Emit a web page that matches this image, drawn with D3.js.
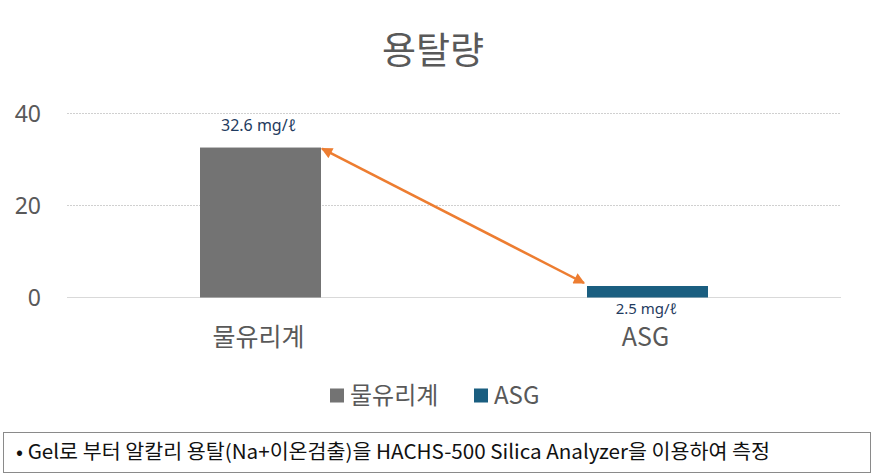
<!DOCTYPE html>
<html><head><meta charset="utf-8">
<script src="https://cdn.jsdelivr.net/npm/d3@7"></script>
<style>body{margin:0;background:#fff}svg{display:block}text{font-family:"Noto Sans","Noto Sans CJK KR",sans-serif}</style>
</head><body>
<svg id="c" width="874" height="476"></svg>
<script>
const categories = ["물유리계", "ASG"];
const values = [32.6, 2.5];
const valueLabels = ["32.6 mg/ℓ", "2.5 mg/ℓ"];
const yTicks = [0, 20, 40];
const colors = ["#737373", "#1a5e80"];
const title = "용탈량";
const note = "• Gel로 부터 알칼리 용탈(Na+이온검출)을 HACHS-500 Silica Analyzer을 이용하여 측정";

const svg = d3.select("#c");
const x = d3.scaleBand().domain(categories).range([67, 841]);
const y = d3.scaleLinear().domain([0, 40]).range([297.5, 113.5]);
const barW = x.bandwidth() * 121 / 387;
const fontK = '"Noto Sans CJK KR","Noto Sans",sans-serif';

svg.append("text").attr("x", 433).attr("y", 64).attr("text-anchor", "middle")
  .attr("font-size", 37).attr("fill", "#595959").style("font-family", fontK).text(title);

// gridlines
svg.selectAll("line.g").data(yTicks.filter(d => d !== 0)).join("line")
  .attr("x1", 67).attr("x2", 841).attr("y1", d => y(d)).attr("y2", d => y(d))
  .attr("stroke", "#d0d0d0").attr("stroke-width", 1).attr("stroke-dasharray", "2,1");
svg.append("line").attr("x1", 67).attr("x2", 841).attr("y1", y(0)).attr("y2", y(0))
  .attr("stroke", "#d9d9d9").attr("stroke-width", 1.2);

// y tick labels
svg.selectAll("text.yt").data(yTicks).join("text")
  .attr("x", 41).attr("y", d => y(d) + 8).attr("text-anchor", "end")
  .attr("font-size", 23).attr("fill", "#595959").text(d => d);

// bars
svg.selectAll("rect.b").data(categories).join("rect")
  .attr("x", d => x(d) + x.bandwidth() / 2 - barW / 2)
  .attr("y", (d, i) => y(values[i]))
  .attr("width", barW)
  .attr("height", (d, i) => y(0) - y(values[i]))
  .attr("fill", (d, i) => colors[i]);

// value labels
svg.append("text").attr("x", x(categories[0]) + x.bandwidth() / 2 - 2).attr("y", y(values[0]) - 17)
  .attr("text-anchor", "middle").attr("font-size", 16).attr("fill", "#1f3b60").text(valueLabels[0]);
svg.append("text").attr("x", x(categories[1]) + x.bandwidth() / 2 - 1).attr("y", y(0) + 16)
  .attr("text-anchor", "middle").attr("font-size", 15).attr("fill", "#1f3b60").text(valueLabels[1]);

// category labels
svg.selectAll("text.cat").data(categories).join("text")
  .attr("x", d => x(d) + x.bandwidth() / 2 - 2).attr("y", 346).attr("text-anchor", "middle")
  .attr("font-size", 25).attr("fill", "#595959").style("font-family", fontK).text(d => d);

// arrow
const defs = svg.append("defs");
defs.append("marker").attr("id", "ah").attr("viewBox", "0 0 10 10").attr("refX", 9).attr("refY", 5)
  .attr("markerWidth", 5).attr("markerHeight", 4.5).attr("orient", "auto-start-reverse")
  .attr("markerUnits", "strokeWidth")
  .append("path").attr("d", "M0,0 L10,5 L0,10 z").attr("fill", "#ED7D31");
const x1 = x(categories[0]) + x.bandwidth() / 2 + barW / 2 + 1;
const y1 = y(values[0]) + 1;
const x2 = x(categories[1]) + x.bandwidth() / 2 - barW / 2 - 3;
const y2 = y(values[1]) - 3;
svg.append("line").attr("x1", x1).attr("y1", y1).attr("x2", x2).attr("y2", y2)
  .attr("stroke", "#ED7D31").attr("stroke-width", 2.5)
  .attr("marker-start", "url(#ah)").attr("marker-end", "url(#ah)");

// legend
const leg = [{x: 330, tx: 350}, {x: 474, tx: 494}];
categories.forEach((c, i) => {
  svg.append("rect").attr("x", leg[i].x).attr("y", 388.5).attr("width", 14).attr("height", 14).attr("fill", colors[i]);
  svg.append("text").attr("x", leg[i].tx).attr("y", 404).attr("font-size", 24).attr("fill", "#595959")
    .style("font-family", fontK).text(c);
});

// note box
svg.append("rect").attr("x", 3.5).attr("y", 432.5).attr("width", 867).attr("height", 40)
  .attr("fill", "none").attr("stroke", "#8a8a8a").attr("stroke-width", 1);
svg.append("text").attr("x", 16).attr("y", 459).attr("font-size", 20).attr("fill", "#111")
  .attr("textLength", 754).attr("lengthAdjust", "spacingAndGlyphs")
  .style("font-family", fontK).text(note);
</script>
</body></html>
